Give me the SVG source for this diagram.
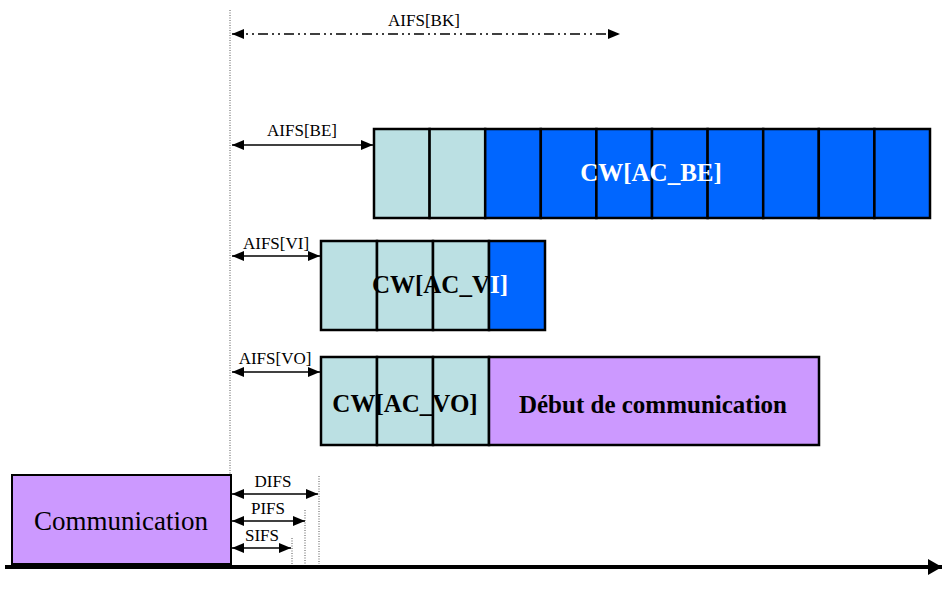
<svg xmlns="http://www.w3.org/2000/svg" width="942" height="606" viewBox="0 0 942 606">
<style>
.lbl{font-family:"Liberation Serif",serif;font-size:17px;fill:#000;text-anchor:middle}
.big{font-family:"Liberation Serif",serif;font-size:25px;font-weight:bold;text-anchor:middle}
.cell{stroke:#000;stroke-width:2.5}
.cy{fill:#BBE0E3}
.bl{fill:#0066FF}
.pu{fill:#CC99FF}
.arr{stroke:#000;stroke-width:1.5;fill:none;marker-start:url(#ah);marker-end:url(#ah)}
.dot{stroke:#555;stroke-width:1;stroke-dasharray:1 1.5;fill:none}
</style>
<defs>
<marker id="ah" viewBox="0 0 12 10" refX="12" refY="5" markerWidth="12" markerHeight="10" markerUnits="userSpaceOnUse" orient="auto-start-reverse">
<path d="M0,0 L12,5 L0,10 Z" fill="#000"/>
</marker>
<marker id="big" viewBox="0 0 14 16" refX="14" refY="8" markerWidth="14" markerHeight="16" markerUnits="userSpaceOnUse" orient="auto">
<path d="M0,0 L14,8 L0,16 Z" fill="#000"/>
</marker>
</defs>
<g id="guides">
<line class="dot" x1="230" y1="10" x2="230" y2="475"/>
<line class="dot" x1="319" y1="476" x2="319" y2="564"/>
<line class="dot" x1="305" y1="510" x2="305" y2="564"/>
<line class="dot" x1="292" y1="538" x2="292" y2="564"/>
</g>
<g id="connectors">
<line x1="232" y1="34" x2="620" y2="34" stroke="#000" stroke-width="1.5" stroke-dasharray="10 4 2 4 2 4" marker-start="url(#ah)" marker-end="url(#ah)"/>
<line class="arr" x1="232" y1="145" x2="373" y2="145"/>
<line class="arr" x1="232" y1="256" x2="320" y2="256"/>
<line class="arr" x1="232" y1="372" x2="320" y2="372"/>
<line class="arr" x1="232" y1="494" x2="318" y2="494"/>
<line class="arr" x1="232" y1="521" x2="305" y2="521"/>
<line class="arr" x1="232" y1="548" x2="291" y2="548"/>
<line x1="5" y1="567" x2="942" y2="567" stroke="#000" stroke-width="4" marker-end="url(#big)"/>
</g>
<g id="labels">
<text class="lbl" x="424" y="26">AIFS[BK]</text>
<text class="lbl" x="302" y="136">AIFS[BE]</text>
<text class="lbl" x="276" y="249">AIFS[VI]</text>
<text class="lbl" x="275" y="364">AIFS[VO]</text>
<text class="lbl" x="273" y="487">DIFS</text>
<text class="lbl" x="268" y="514">PIFS</text>
<text class="lbl" x="262" y="541">SIFS</text>
</g>
<g id="cw-be">
<rect class="cell cy" x="374" y="129" width="55.6" height="89"/>
<rect class="cell cy" x="429.6" y="129" width="55.6" height="89"/>
<rect class="cell bl" x="485.2" y="129" width="55.6" height="89"/>
<rect class="cell bl" x="540.8" y="129" width="55.6" height="89"/>
<rect class="cell bl" x="596.4" y="129" width="55.6" height="89"/>
<rect class="cell bl" x="652" y="129" width="55.6" height="89"/>
<rect class="cell bl" x="707.6" y="129" width="55.6" height="89"/>
<rect class="cell bl" x="763.2" y="129" width="55.6" height="89"/>
<rect class="cell bl" x="818.8" y="129" width="55.6" height="89"/>
<rect class="cell bl" x="874.4" y="129" width="55.6" height="89"/>
<text class="big" x="651" y="181" fill="#fff">CW[AC_BE]</text>
</g>
<g id="cw-vi">
<rect class="cell cy" x="321" y="241" width="56" height="89"/>
<rect class="cell cy" x="377" y="241" width="56" height="89"/>
<rect class="cell cy" x="433" y="241" width="56" height="89"/>
<rect class="cell bl" x="489" y="241" width="56" height="89"/>
<text class="big" x="440" y="293" fill="#000">CW[AC_V<tspan fill="#fff">I]</tspan></text>
</g>
<g id="cw-vo">
<rect class="cell cy" x="321" y="357" width="56" height="88"/>
<rect class="cell cy" x="377" y="357" width="56" height="88"/>
<rect class="cell cy" x="433" y="357" width="56" height="88"/>
<text class="big" x="405" y="412" fill="#000">CW[AC_VO]</text>
</g>
<g id="debut">
<rect class="cell pu" x="489" y="357" width="330" height="88"/>
<text class="big" x="653" y="413" fill="#000">Début de communication</text>
</g>
<g id="communication">
<rect class="pu" x="12" y="475" width="219" height="89" stroke="#000" stroke-width="2"/>
<text x="121" y="530" font-family="Liberation Serif,serif" font-size="27" text-anchor="middle">Communication</text>
</g>
</svg>
